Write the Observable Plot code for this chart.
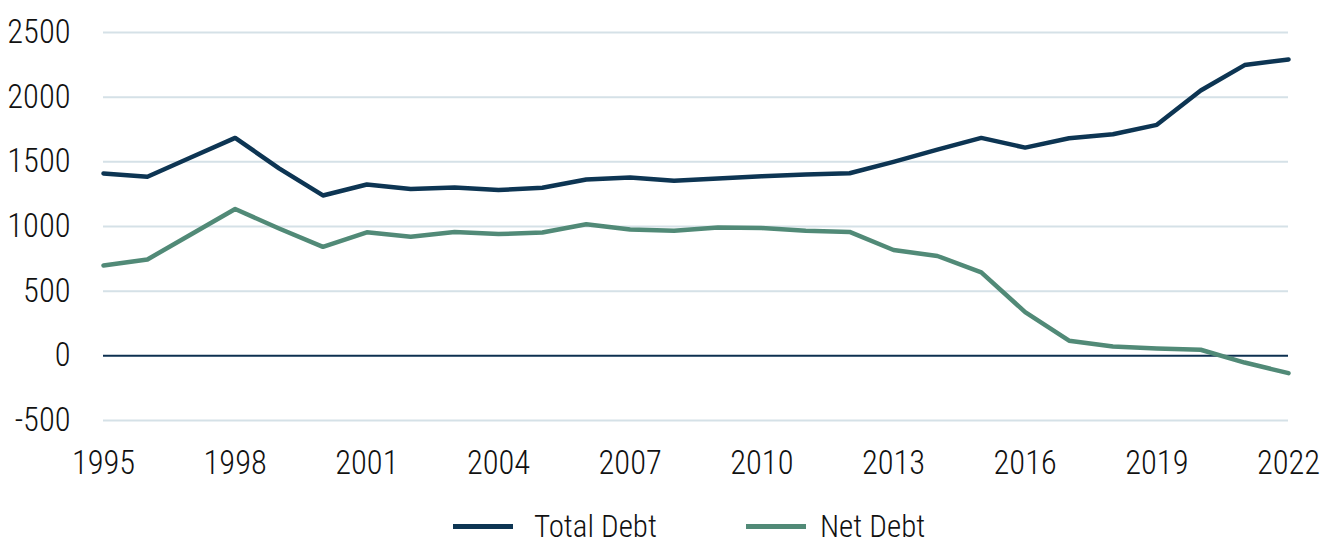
<!DOCTYPE html>
<html>
<head>
<meta charset="utf-8">
<script src="https://cdn.jsdelivr.net/npm/d3@7"></script>
<script src="https://cdn.jsdelivr.net/npm/@observablehq/plot@0.6"></script>
<style>
  html, body { margin: 0; padding: 0; background: #fff; }
  body { position: relative; width: 1327px; height: 553px; overflow: hidden; font-family: "Roboto Condensed", "Liberation Sans Narrow", "DejaVu Sans Condensed", Roboto, sans-serif; }
  #chart svg { display: block; }
  .item { position: absolute; top: 508px; height: 36px; display: flex; align-items: center; font-size: 31px; font-weight: 300; color: #111; }
  .sw { width: 60px; height: 5px; }
</style>
</head>
<body>
<div id="chart"></div>
<div class="item" style="left:453px"><div class="sw" style="background:#0d3553;margin-right:21px"></div><span>Total Debt</span></div>
<div class="item" style="left:746px"><div class="sw" style="background:#518a77;margin-right:14px"></div><span>Net Debt</span></div>
<script>
const years = d3.range(1995, 2023);
const totalDebt = [1410, 1385, 1535, 1685, 1450, 1240, 1325, 1290, 1302, 1282, 1300, 1363, 1378, 1353, 1372, 1388, 1402, 1412, 1500, 1595, 1685, 1610, 1682, 1713, 1786, 2052, 2248, 2292];
const netDebt = [698, 745, 940, 1135, 985, 843, 955, 920, 958, 942, 953, 1018, 977, 968, 992, 988, 967, 958, 818, 772, 645, 338, 117, 72, 57, 47, -52, -134];
const yTicks = [-500, 0, 500, 1000, 1500, 2000, 2500];
const xTicks = [1995, 1998, 2001, 2004, 2007, 2010, 2013, 2016, 2019, 2022];

const total = years.map((y, i) => ({year: y, value: totalDebt[i]}));
const net = years.map((y, i) => ({year: y, value: netDebt[i]}));

const plot = Plot.plot({
  width: 1327,
  height: 490,
  marginLeft: 103,
  marginRight: 39,
  marginTop: 32,
  marginBottom: 70,
  style: {fontFamily: "'Roboto Condensed', 'Liberation Sans Narrow', 'DejaVu Sans Condensed', Roboto, sans-serif", fontSize: "32.5px", fontWeight: 300, color: "#111", background: "#fff"},
  x: {domain: [1995, 2022], ticks: xTicks, tickFormat: d => String(d), tickSize: 0, tickPadding: 30, label: null},
  y: {domain: [-500, 2500], ticks: yTicks, tickSize: 0, tickPadding: 33, label: null, tickFormat: d => String(d)},
  marks: [
    Plot.ruleY(yTicks.filter(d => d !== 0), {stroke: "#d5e1e7", strokeWidth: 2}),
    Plot.ruleY([0], {stroke: "#0d3050", strokeWidth: 2}),
    Plot.line(total, {x: "year", y: "value", stroke: "#0d3553", strokeWidth: 4.5}),
    Plot.line(net, {x: "year", y: "value", stroke: "#518a77", strokeWidth: 4.5})
  ]
});
document.getElementById("chart").appendChild(plot);
</script>
</body>
</html>
